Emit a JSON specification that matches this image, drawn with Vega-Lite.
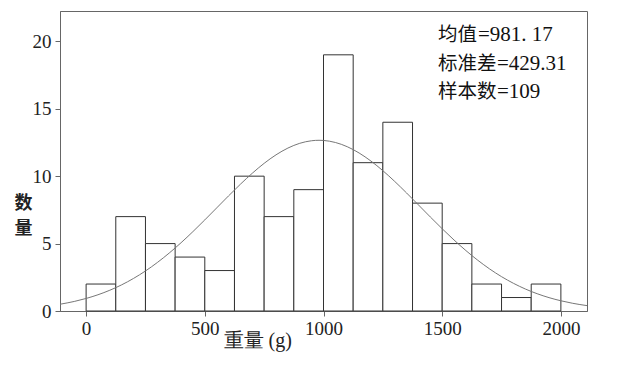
{
  "$schema": "https://vega.github.io/schema/vega-lite/v6.json",
  "autosize": "none",
  "width": 527,
  "height": 300,
  "padding": {"left": 60, "top": 11, "right": 33, "bottom": 57},
  "background": "white",
  "config": {
    "view": {"stroke": "#666", "strokeWidth": 1},
    "axis": {
      "grid": false,
      "domainColor": "#666",
      "tickColor": "#666",
      "tickSize": 5,
      "labelFont": "Liberation Serif",
      "labelFontSize": 19,
      "labelColor": "#222",
      "titleFont": "Liberation Serif",
      "titleColor": "#222",
      "titleFontSize": 19,
      "titleFontWeight": "normal"
    }
  },
  "datasets": {
    "bins": [
      {"start": 0, "end": 125, "count": 2},
      {"start": 125, "end": 250, "count": 7},
      {"start": 250, "end": 375, "count": 5},
      {"start": 375, "end": 500, "count": 4},
      {"start": 500, "end": 625, "count": 3},
      {"start": 625, "end": 750, "count": 10},
      {"start": 750, "end": 875, "count": 7},
      {"start": 875, "end": 1000, "count": 9},
      {"start": 1000, "end": 1125, "count": 19},
      {"start": 1125, "end": 1250, "count": 11},
      {"start": 1250, "end": 1375, "count": 14},
      {"start": 1375, "end": 1500, "count": 8},
      {"start": 1500, "end": 1625, "count": 5},
      {"start": 1625, "end": 1750, "count": 2},
      {"start": 1750, "end": 1875, "count": 1},
      {"start": 1875, "end": 2000, "count": 2}
    ],
    "curve": [
      {"w": -110, "n": 0.501}, {"w": -50, "n": 0.708}, {"w": 0, "n": 0.930},
      {"w": 50, "n": 1.205}, {"w": 100, "n": 1.541}, {"w": 150, "n": 1.943},
      {"w": 200, "n": 2.418}, {"w": 250, "n": 2.969}, {"w": 300, "n": 3.596},
      {"w": 350, "n": 4.297}, {"w": 400, "n": 5.064}, {"w": 450, "n": 5.889},
      {"w": 500, "n": 6.756}, {"w": 550, "n": 7.646}, {"w": 600, "n": 8.537},
      {"w": 650, "n": 9.403}, {"w": 700, "n": 10.217}, {"w": 750, "n": 10.952},
      {"w": 800, "n": 11.582}, {"w": 850, "n": 12.084}, {"w": 900, "n": 12.437},
      {"w": 950, "n": 12.628}, {"w": 981.17, "n": 12.661}, {"w": 1000, "n": 12.649},
      {"w": 1050, "n": 12.499}, {"w": 1100, "n": 12.185}, {"w": 1150, "n": 11.719},
      {"w": 1200, "n": 11.119}, {"w": 1250, "n": 10.407}, {"w": 1300, "n": 9.610},
      {"w": 1350, "n": 8.754}, {"w": 1400, "n": 7.867}, {"w": 1450, "n": 6.974},
      {"w": 1500, "n": 6.100}, {"w": 1550, "n": 5.263}, {"w": 1600, "n": 4.480},
      {"w": 1650, "n": 3.762}, {"w": 1700, "n": 3.117}, {"w": 1750, "n": 2.547},
      {"w": 1800, "n": 2.054}, {"w": 1850, "n": 1.633}, {"w": 1900, "n": 1.282},
      {"w": 1950, "n": 0.992}, {"w": 2000, "n": 0.758}, {"w": 2050, "n": 0.571},
      {"w": 2110, "n": 0.399}
    ]
  },
  "layer": [
    {
      "data": {"name": "bins"},
      "mark": {"type": "rect", "fill": "white", "stroke": "#333", "strokeWidth": 1},
      "encoding": {
        "x": {
          "field": "start", "type": "quantitative",
          "scale": {"domain": [-110, 2110], "nice": false, "zero": false},
          "axis": {
            "values": [0, 500, 1000, 1500, 2000],
            "format": "d",
            "labelPadding": 3,
            "title": "重量 (g)",
            "titleAnchor": "start",
            "titleAlign": "left",
            "titleBaseline": "alphabetic",
            "titleX": 163,
            "titleY": 35,
            "titleFontSize": 20
          }
        },
        "x2": {"field": "end"},
        "y": {
          "field": "count", "type": "quantitative",
          "scale": {"domain": [0, 22.25], "nice": false},
          "axis": {
            "values": [0, 5, 10, 15, 20],
            "labelPadding": 4,
            "title": ["数", "量"],
            "titleFont": "Noto Sans CJK SC",
            "titleAngle": 0,
            "titleAlign": "center",
            "titleBaseline": "top",
            "titleX": -37,
            "titleY": 183,
            "titleLineHeight": 25,
            "titleFontSize": 18,
            "titleFontWeight": "bold"
          }
        },
        "y2": {"datum": 0}
      }
    },
    {
      "data": {"name": "curve"},
      "mark": {"type": "line", "color": "#777", "strokeWidth": 1, "interpolate": "monotone"},
      "encoding": {
        "x": {"field": "w", "type": "quantitative"},
        "y": {"field": "n", "type": "quantitative"}
      }
    },
    {
      "data": {"values": [{}]},
      "mark": {
        "type": "text",
        "align": "left",
        "baseline": "alphabetic",
        "font": "Noto Sans CJK SC",
        "fontSize": 19.5,
        "lineHeight": 28.5,
        "color": "#111"
      },
      "encoding": {
        "x": {"datum": 1482, "type": "quantitative"},
        "y": {"datum": 20.0, "type": "quantitative"},
        "text": {"value": ["均值", "标准差", "样本数"]}
      }
    },
    {
      "data": {"values": [{}]},
      "mark": {
        "type": "text",
        "align": "left",
        "baseline": "alphabetic",
        "font": "Liberation Serif",
        "fontSize": 21,
        "dx": 40,
        "color": "#111"
      },
      "encoding": {
        "x": {"datum": 1482, "type": "quantitative"},
        "y": {"datum": 20.0, "type": "quantitative"},
        "text": {"value": "=981. 17"}
      }
    },
    {
      "data": {"values": [{}]},
      "mark": {
        "type": "text",
        "align": "left",
        "baseline": "alphabetic",
        "font": "Liberation Serif",
        "fontSize": 21,
        "lineHeight": 28.5,
        "dx": 59,
        "color": "#111"
      },
      "encoding": {
        "x": {"datum": 1482, "type": "quantitative"},
        "y": {"datum": 17.886, "type": "quantitative"},
        "text": {"value": ["=429.31", "=109"]}
      }
    }
  ]
}
